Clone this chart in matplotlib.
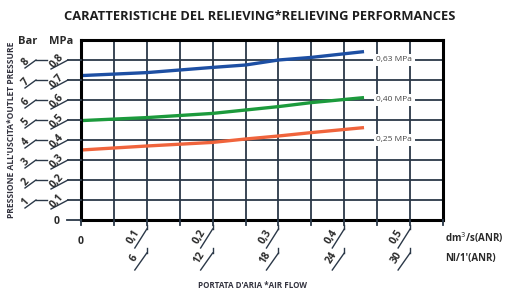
#! /usr/bin/env python3

import matplotlib
matplotlib.use("Agg")
import matplotlib.pyplot as plt
from matplotlib.lines import Line2D
from matplotlib.transforms import IdentityTransform

## Données

flow = [0.0, 0.1, 0.2, 0.25, 0.3, 0.35, 0.43]          # dm3/s (ANR)
p063 = [0.722, 0.737, 0.763, 0.775, 0.800, 0.813, 0.842]  # MPa
p040 = [0.497, 0.512, 0.533, 0.550, 0.567, 0.587, 0.612]
p025 = [0.350, 0.370, 0.388, 0.405, 0.420, 0.437, 0.462]

curve_names = ["0,63 MPa", "0,40 MPa", "0,25 MPa"]
curve_colors = ["#1d4fa3", "#1c9a3c", "#f0643c"]

mpa_ticks = [0.1, 0.2, 0.3, 0.4, 0.5, 0.6, 0.7, 0.8]
mpa_labels = ["0,1", "0,2", "0,3", "0,4", "0,5", "0,6", "0,7", "0,8"]
bar_labels = ["1", "2", "3", "4", "5", "6", "7", "8"]

flow_ticks = [0.1, 0.2, 0.3, 0.4, 0.5]
flow_labels = ["0,1", "0,2", "0,3", "0,4", "0,5"]
nl_labels = ["6", "12", "18", "24", "30"]

grid_col = "#2b3848"
txt_col = "#2a2a2a"
font = ["Open Sans", "DejaVu Sans"]

fig = plt.figure(figsize=(5.05, 2.93), dpi=100)
ax = fig.add_axes([81 / 505, 1 - 220 / 293, 362 / 505, 180 / 293])

ax.set_xlim(0, 0.55)
ax.set_ylim(0, 0.9)
ax.set_xticks([i * 0.05 for i in range(12)])
ax.set_yticks([i * 0.1 for i in range(10)])
ax.tick_params(length=0, labelbottom=False, labelleft=False)
ax.grid(True, color=grid_col, linewidth=1.3)
for s in ax.spines.values():
    s.set_linewidth(2.2)
    s.set_color("black")
    s.set_zorder(5)

for ys, c in zip([p063, p040, p025], curve_colors):
    ax.plot(flow, ys, color=c, linewidth=2.4, solid_capstyle="butt", zorder=3)

for name, yv in zip(curve_names, [0.8, 0.6, 0.4]):
    ax.text(0.476, yv, name, ha="center", va="center", fontsize=6,
            color="#444444", family=font, zorder=4,
            bbox=dict(boxstyle="square,pad=0.35", fc="white", ec="none"))

ax.set_axisbelow(True)

fig.canvas.draw()
I = IdentityTransform()


def seg(xs, ys, lw=1.0, col=grid_col):
    fig.add_artist(Line2D(xs, ys, color=col, linewidth=lw, transform=I))


def lab(x, y, s, rot=0, size=7.5, weight="bold", ha="center"):
    fig.text(x, y, s, transform=I, rotation=rot, ha=ha, va="center",
             fontsize=size, color=txt_col, family=font, fontweight=weight,
             rotation_mode="anchor")


# axe des pressions
X0, Y0 = ax.transData.transform((0, 0))
seg([X0 - 14, X0], [Y0, Y0], lw=1.3)
lab(X0 - 24, Y0 - 1, "0")
for v, m, b in zip(mpa_ticks, mpa_labels, bar_labels):
    _, Y = ax.transData.transform((0, v))
    seg([X0 - 13, X0], [Y, Y], lw=1.3)
    seg([X0 - 30, X0 - 13], [Y - 9, Y])
    lab(X0 - 24, Y - 1, m, rot=48)
    seg([X0 - 45, X0 - 34], [Y, Y])
    seg([X0 - 56, X0 - 45], [Y - 8, Y])
    lab(X0 - 55, Y - 2, b, rot=48)

lab(X0 - 53, Y0 + 178, "Bar", size=8, weight="bold")
lab(X0 - 20, Y0 + 178, "MPa", size=8, weight="bold")

# axe des débits
for i in range(12):
    X, _ = ax.transData.transform((i * 0.05, 0))
    seg([X, X], [Y0, Y0 - 5], lw=1.3)
lab(X0, Y0 - 22, "0")
for f, a, b in zip(flow_ticks, flow_labels, nl_labels):
    X, _ = ax.transData.transform((f, 0))
    seg([X, X], [Y0 - 5, Y0 - 9])
    seg([X, X - 12], [Y0 - 9, Y0 - 28])
    lab(X - 13, Y0 - 17, a, rot=58)
    seg([X, X], [Y0 - 28, Y0 - 33])
    seg([X, X - 12], [Y0 - 33, Y0 - 50])
    lab(X - 13, Y0 - 38, b, rot=58)

lab(445, 293 - 238, "dm$^3$/s(ANR)", size=7, weight="bold", ha="left")
lab(445, 293 - 259, "Nl/1'(ANR)", size=7, weight="bold", ha="left")

fig.text(260 / 505, 1 - 17 / 293, "CARATTERISTICHE DEL RELIEVING*RELIEVING PERFORMANCES",
         ha="center", va="center", fontsize=9.3, fontweight="bold",
         color="#1e1e1e", family=font)
fig.text(12 / 505, 1 - 130 / 293, "PRESSIONE ALL'USCITA*OUTLET PRESSURE",
         ha="center", va="center", rotation=90, fontsize=6.1, fontweight="bold",
         color="#33333f", family=font)
fig.text(252 / 505, 1 - 285 / 293, "PORTATA D'ARIA *AIR FLOW",
         ha="center", va="center", fontsize=5.8, fontweight="bold",
         color="#33333f", family=font)

fig.savefig("out.png", dpi=100)
